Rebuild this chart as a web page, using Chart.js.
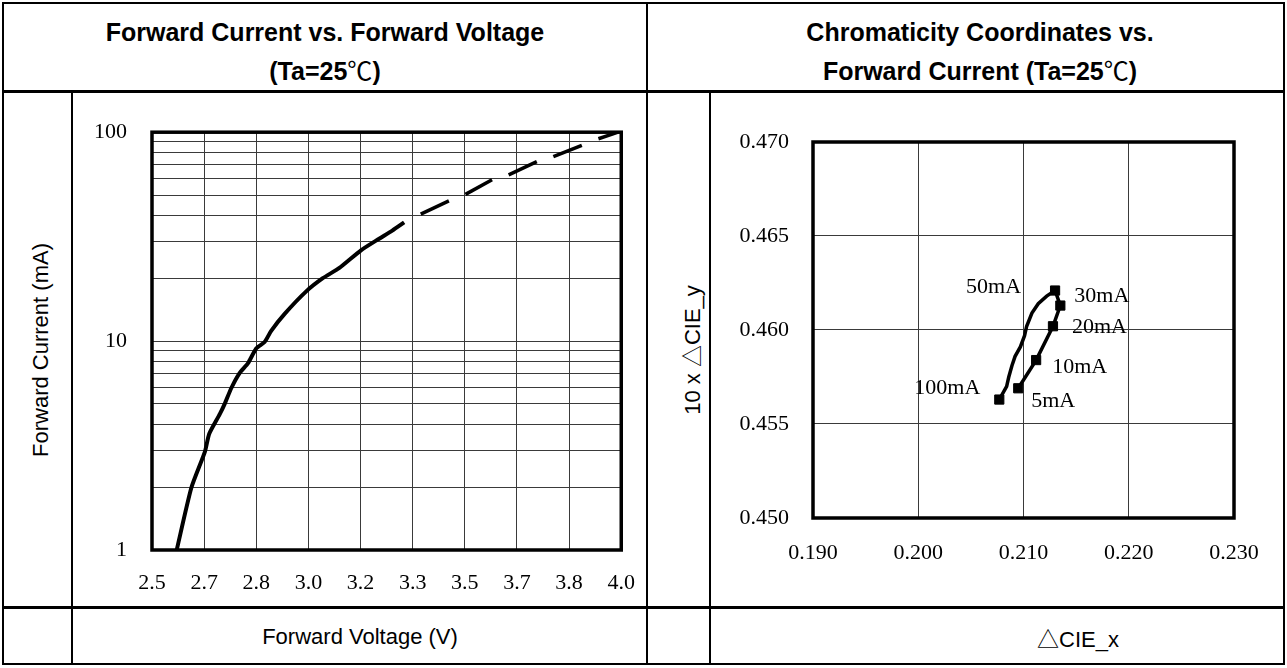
<!DOCTYPE html>
<html>
<head>
<meta charset="utf-8">
<script src="https://cdn.jsdelivr.net/npm/chart.js@4.4.1/dist/chart.umd.min.js"></script>
<style>
  html, body { margin: 0; padding: 0; background: #fff; }
  body { width: 1287px; height: 668px; position: relative; overflow: hidden;
         font-family: "Liberation Sans", Arial, "Noto Sans CJK SC", sans-serif; color: #000; }
  .ln { position: absolute; background: #000; z-index: 2; }
  .title { position: absolute; text-align: center; font-weight: bold; font-size: 25px; line-height: 37px; white-space: nowrap; }
  .deg { font-family: "Noto Sans CJK SC", sans-serif; font-weight: normal; }
  .lbl { position: absolute; font-size: 22px; white-space: nowrap; transform: translate(-50%, -50%); }
  .vlbl { position: absolute; font-size: 22px; white-space: nowrap; transform: translate(-50%, -50%) rotate(-90deg); }
  canvas { position: absolute; z-index: 1; }
</style>
</head>
<body>
<!-- table lines -->
<div class="ln" style="left:2px;top:2px;width:1283px;height:2px"></div>
<div class="ln" style="left:2px;top:663px;width:1283px;height:2px"></div>
<div class="ln" style="left:2px;top:2px;width:2px;height:663px"></div>
<div class="ln" style="left:1283px;top:2px;width:2px;height:663px"></div>
<div class="ln" style="left:2px;top:90px;width:1283px;height:3px"></div>
<div class="ln" style="left:2px;top:606px;width:1283px;height:3px"></div>
<div class="ln" style="left:646px;top:2px;width:2px;height:663px"></div>
<div class="ln" style="left:71px;top:92px;width:2px;height:573px"></div>
<div class="ln" style="left:709px;top:92px;width:2px;height:573px"></div>

<div class="title" style="left:4px;width:642px;top:14px">Forward Current vs. Forward Voltage<br>(Ta=25<span class="deg">℃</span>)</div>
<div class="title" style="left:660px;width:640px;top:14px">Chromaticity Coordinates vs.<br>Forward Current (Ta=25<span class="deg">℃</span>)</div>

<div class="vlbl" style="left:41px;top:350px">Forward Current (mA)</div>
<div class="vlbl" style="left:690px;top:350px">10 x △CIE_y</div>
<div class="lbl" style="left:360px;top:637px">Forward Voltage (V)</div>
<div class="lbl" style="left:1078px;top:637px">△CIE_x</div>

<canvas id="ivChart" width="581" height="512" style="left:74px;top:94px"></canvas>
<canvas id="cieChart" width="572" height="512" style="left:711px;top:94px"></canvas>

<script>
// Forward current vs forward voltage
const vfSolid = [2.579, 2.626, 2.669, 2.683, 2.717, 2.732, 2.754, 2.780, 2.807, 2.833, 2.860, 2.881, 2.924, 2.993, 3.046, 3.099, 3.168, 3.226, 3.268, 3.306];
const ifSolid = [1.0, 1.99, 2.95, 3.6, 4.48, 4.99, 5.98, 7.03, 7.84, 9.22, 9.9, 11.2, 13.5, 17.3, 20.0, 22.4, 27.2, 30.9, 33.8, 37.0];
// dashed upper part: pairs of dash start/end
const vfDash = [3.359, 3.449, 3.502, 3.587, 3.640, 3.730, 3.783, 3.874, 3.927, 3.990];
const ifDash = [40.5, 46.9, 50.4, 59.2, 62.5, 72.3, 76.3, 86.5, 93.0, 100];
const vfTickLabels = ['2.5', '2.7', '2.8', '3.0', '3.2', '3.3', '3.5', '3.7', '3.8', '4.0'];
const ifTickLabels = [1, 10, 100];

// Chromaticity vs forward current
const cieX = [0.2095, 0.2112, 0.2128, 0.2135, 0.2130, 0.2122, 0.2114, 0.2108, 0.2103, 0.2101, 0.2097, 0.2092, 0.2089, 0.2086, 0.2084, 0.2077];
const cieY = [0.4569, 0.4584, 0.4602, 0.4613, 0.4621, 0.4618, 0.4614, 0.4609, 0.4602, 0.4597, 0.4591, 0.4586, 0.4581, 0.4575, 0.4570, 0.4563];
const cieLabels = ['5mA', '10mA', '20mA', '30mA', '50mA', '', '', '', '', '', '', '', '', '', '', '100mA'];
const cieXTickLabels = ['0.190', '0.200', '0.210', '0.220', '0.230'];
const cieYTickLabels = ['0.450', '0.455', '0.460', '0.465', '0.470'];

Chart.defaults.font.family = '"Liberation Serif", "Times New Roman", serif';
Chart.defaults.font.size = 22;
Chart.defaults.color = '#000';

const frame = {
  id: 'frame',
  afterDatasetsDraw(chart) {
    const { ctx, chartArea: a } = chart;
    ctx.save();
    ctx.strokeStyle = '#000';
    ctx.lineWidth = 3.5;
    ctx.strokeRect(a.left, a.top, a.right - a.left, a.bottom - a.top);
    ctx.restore();
  }
};

const gridStyle = { color: '#3a3a3a', lineWidth: 1, drawTicks: false };

new Chart(document.getElementById('ivChart'), {
  type: 'line',
  data: {
    datasets: [
      {
        data: vfSolid.map((v, i) => ({ x: v, y: ifSolid[i] })),
        borderColor: '#000', borderWidth: 4, pointRadius: 0, tension: 0.2
      },
      {
        data: vfDash.map((v, i) => ({ x: v, y: ifDash[i] })),
        borderColor: '#000', borderWidth: 3.5, pointRadius: 0,
        segment: { borderColor: c => (c.p0DataIndex % 2 ? 'rgba(0,0,0,0)' : '#000') }
      }
    ]
  },
  options: {
    responsive: false,
    animation: false,
    layout: { padding: { top: 30, right: 0, left: 0, bottom: 0 } },
    plugins: { legend: { display: false }, tooltip: { enabled: false } },
    scales: {
      x: {
        type: 'linear', min: 2.5, max: 4.0,
        afterBuildTicks: s => {
          s.ticks = vfTickLabels.map((_, i) => ({ value: 2.5 + i * 1.5 / (vfTickLabels.length - 1) }));
        },
        afterFit: s => { s.height = 56; },
        ticks: { callback: (v, i) => vfTickLabels[i], autoSkip: false, maxRotation: 0, padding: 20 },
        grid: gridStyle,
        border: { display: false }
      },
      y: {
        type: 'logarithmic', min: 1, max: 100,
        afterBuildTicks: s => {
          const t = [];
          for (let d = 1; d < 100; d *= 10) for (let k = 1; k < 10; k++) t.push({ value: k * d });
          t.push({ value: 100 });
          s.ticks = t;
        },
        afterFit: s => { s.width = 78; },
        ticks: { callback: v => (ifTickLabels.includes(v) ? String(v) : ''), autoSkip: false, padding: 25 },
        grid: gridStyle,
        border: { display: false }
      }
    }
  },
  plugins: [frame]
});

const labelOffsets = {
  '5mA': [13, 13, 'left'], '10mA': [16, 7, 'left'], '20mA': [19, 1, 'left'],
  '30mA': [14, -9, 'left'], '50mA': [-34, -3, 'right'], '100mA': [-19, -11, 'right']
};

const pointText = {
  id: 'pointText',
  afterDatasetsDraw(chart) {
    const { ctx } = chart;
    const meta = chart.getDatasetMeta(0);
    ctx.save();
    ctx.font = '22px "Liberation Serif", "Times New Roman", serif';
    ctx.fillStyle = '#000';
    ctx.textBaseline = 'middle';
    cieLabels.forEach((t, i) => {
      if (!t) return;
      const o = labelOffsets[t];
      ctx.textAlign = o[2];
      ctx.fillText(t, meta.data[i].x + o[0], meta.data[i].y + o[1]);
    });
    ctx.restore();
  }
};

new Chart(document.getElementById('cieChart'), {
  type: 'scatter',
  data: {
    datasets: [{
      data: cieX.map((v, i) => ({ x: v, y: cieY[i] })),
      showLine: true,
      borderColor: '#000', borderWidth: 3.5,
      pointStyle: 'rect',
      pointRadius: cieLabels.map(t => (t ? 6.5 : 0)),
      pointBackgroundColor: '#000', pointBorderColor: '#000', pointBorderWidth: 1
    }]
  },
  options: {
    responsive: false,
    animation: false,
    layout: { padding: { top: 48, right: 49, left: 0, bottom: 0 } },
    plugins: { legend: { display: false }, tooltip: { enabled: false } },
    scales: {
      x: {
        type: 'linear', min: 0.19, max: 0.23,
        afterBuildTicks: s => { s.ticks = cieXTickLabels.map(l => ({ value: parseFloat(l) })); },
        afterFit: s => { s.height = 88; },
        ticks: { callback: (v, i) => cieXTickLabels[i], autoSkip: false, maxRotation: 0, padding: 22 },
        grid: gridStyle,
        border: { display: false }
      },
      y: {
        type: 'linear', min: 0.45, max: 0.47,
        afterBuildTicks: s => { s.ticks = cieYTickLabels.map(l => ({ value: parseFloat(l) })); },
        afterFit: s => { s.width = 102; },
        ticks: { callback: (v, i) => cieYTickLabels[i], autoSkip: false, padding: 24 },
        grid: gridStyle,
        border: { display: false }
      }
    }
  },
  plugins: [frame, pointText]
});
</script>
</body>
</html>
